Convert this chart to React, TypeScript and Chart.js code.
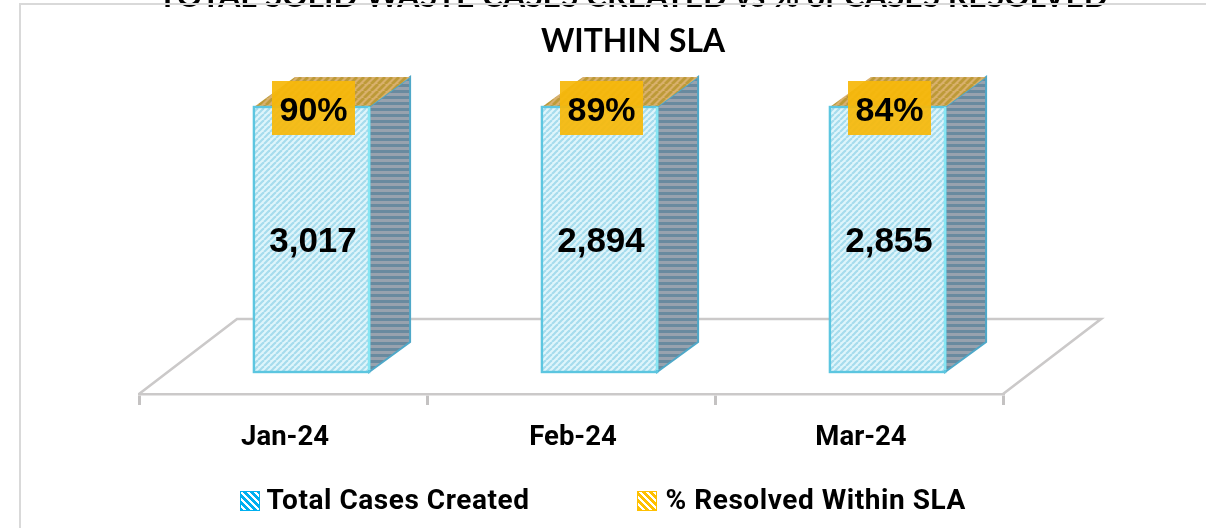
import React, { useEffect, useRef } from "react";
import { Chart, registerables } from "chart.js";

Chart.register(...registerables);

const months = ["Jan-24", "Feb-24", "Mar-24"];
const casesCreated = [3017, 2894, 2855];
const resolvedPct = [90, 89, 84];
const seriesNames = ["Total Cases Created", "% Resolved Within SLA"];
const titleLines = ["TOTAL SOLID WASTE CASES CREATED vs % of CASES RESOLVED", "WITHIN SLA"];

// 100% stacked shares, as in the original chart
const totals = casesCreated.map((v, i) => v + resolvedPct[i] / 100);
const casesShare = casesCreated.map((v, i) => v / totals[i]);
const pctShare = resolvedPct.map((v, i) => v / 100 / totals[i]);

function tile(w: number, h: number, draw: (c: CanvasRenderingContext2D) => void) {
  const cv = document.createElement("canvas");
  cv.width = w;
  cv.height = h;
  const c = cv.getContext("2d")!;
  draw(c);
  return cv;
}

function diagTile(size: number, bg: string, fg: string, lw: number) {
  return tile(size, size, (c) => {
    c.fillStyle = bg;
    c.fillRect(0, 0, size, size);
    c.strokeStyle = fg;
    c.lineWidth = lw;
    for (let k = -size; k <= size * 2; k += size) {
      c.beginPath();
      c.moveTo(k, size);
      c.lineTo(k + size, 0);
      c.stroke();
    }
  });
}

function pixelTile(size: number, bg: string, fg: string, band: number) {
  return tile(size, size, (c) => {
    c.fillStyle = bg;
    c.fillRect(0, 0, size, size);
    c.fillStyle = fg;
    for (let y = 0; y < size; y++)
      for (let x = 0; x < size; x++)
        if ((x - y + size) % size < band) c.fillRect(x, y, 1, 1);
  });
}

const FLOOR_DX = 98;
const FLOOR_DY = -75;
const BAR_DEPTH_DX = 41;
const BAR_DEPTH_DY = -30;
const BAR_SHIFT_DX = 28.5;
const BAR_SHIFT_DY = -22;
const GREY = "#cbc9c9";

function poly(c: CanvasRenderingContext2D, pts: number[][]) {
  c.beginPath();
  pts.forEach((p, i) => (i ? c.lineTo(p[0], p[1]) : c.moveTo(p[0], p[1])));
  c.closePath();
}

const floorPlugin = {
  id: "floor3d",
  beforeDatasetsDraw(chart: any) {
    const { ctx: c, chartArea: a } = chart;
    c.save();
    c.strokeStyle = GREY;
    c.lineWidth = 2.6;
    c.beginPath();
    c.moveTo(a.left, a.bottom);
    c.lineTo(a.left + FLOOR_DX, a.bottom + FLOOR_DY);
    c.lineTo(a.right + FLOOR_DX, a.bottom + FLOOR_DY);
    c.lineTo(a.right, a.bottom);
    c.stroke();
    c.restore();
  },
};

const barsPlugin = {
  id: "bars3d",
  afterDatasetsDraw(chart: any) {
    const c: CanvasRenderingContext2D = chart.ctx;
    const frontFill = c.createPattern(diagTile(6, "#dff5fb", "#a6dced", 2.2), "repeat")!;
    const topFill = c.createPattern(diagTile(7, "#d9b06c", "#bd9a38", 2.8), "repeat")!;
    const sideFill = c.createPattern(
      tile(2, 6, (t) => {
        t.fillStyle = "#98a2ae";
        t.fillRect(0, 0, 2, 6);
        t.fillStyle = "#698a9f";
        t.fillRect(0, 0, 2, 3);
      }),
      "repeat"
    )!;
    const m0 = chart.getDatasetMeta(0).data;
    const m1 = chart.getDatasetMeta(1).data;
    m0.forEach((bar: any, i: number) => {
      const w = bar.width;
      const l = bar.x - w / 2 + BAR_SHIFT_DX;
      const r = l + w;
      const bottom = bar.base + BAR_SHIFT_DY;
      const top = m1[i].y + BAR_SHIFT_DY;
      const dx = BAR_DEPTH_DX;
      const dy = BAR_DEPTH_DY;

      c.save();
      c.filter = "blur(0.6px)";
      poly(c, [[r, bottom], [r + dx, bottom + dy], [r + dx, top + dy], [r, top]]);
      c.fillStyle = sideFill;
      c.fill();
      c.strokeStyle = "#4fa8c8";
      c.lineWidth = 2;
      c.stroke();

      poly(c, [[l, top], [l + dx, top + dy], [r + dx, top + dy], [r, top]]);
      c.fillStyle = topFill;
      c.fill();

      c.fillStyle = frontFill;
      c.fillRect(l, top, w, bottom - top);
      c.strokeStyle = "#5cc6e0";
      c.lineWidth = 2.4;
      c.strokeRect(l, top, w, bottom - top);
      c.strokeStyle = "#86e6f3";
      c.beginPath();
      c.moveTo(r, top);
      c.lineTo(r, bottom - 2);
      c.stroke();
      c.restore();

      // value labels
      c.textAlign = "center";
      c.textBaseline = "middle";
      c.font = 'bold 35px "Liberation Sans"';
      c.fillStyle = "#000";
      c.fillText(casesCreated[i].toLocaleString("en-US"), l + w / 2 + 1.5, (top + bottom) / 2 + 3);

      const bw = 83;
      const bh = 54;
      const cx = l + w / 2 + 2;
      const cy = top + 1;
      c.fillStyle = "rgba(246,184,10,0.93)";
      c.fillRect(cx - bw / 2, cy - bh / 2, bw, bh);
      c.fillStyle = "#000";
      c.font = 'bold 34px "Liberation Sans"';
      c.fillText(resolvedPct[i] + "%", cx, cy + 4);
    });
  },
};

const framePlugin = {
  id: "frame",
  afterDraw(chart: any) {
    const c: CanvasRenderingContext2D = chart.ctx;
    c.save();
    c.strokeStyle = "#d9d9d9";
    c.lineWidth = 2;
    c.beginPath();
    c.moveTo(20, chart.height);
    c.lineTo(20, 4);
    c.lineTo(chart.width, 4);
    c.stroke();

    // legend
    const swatches = [
      { x: 240, bg: "#00b0f0", text: 266.5 },
      { x: 637, bg: "#ffc000", text: 665.5 },
    ];
    c.textAlign = "left";
    c.textBaseline = "middle";
    c.font = 'bold 28px "Roboto"';
    (c as any).letterSpacing = "0.55px";
    swatches.forEach((s, i) => {
      c.fillStyle = c.createPattern(pixelTile(7, s.bg, "#ffffff", 3), "repeat")!;
      c.fillRect(s.x, 491, 20, 20);
      c.strokeStyle = s.bg;
      c.lineWidth = 1;
      c.strokeRect(s.x + 0.5, 491.5, 19, 19);
      c.fillStyle = "#000";
      c.fillText(seriesNames[i], s.text, 502);
    });
    (c as any).letterSpacing = "0px";
    c.restore();
  },
};

export default function App() {
  const ref = useRef<HTMLCanvasElement>(null);
  useEffect(() => {
    document.body.style.margin = "0";
    document.body.style.background = "#fff";
    const chart = new Chart(ref.current!, {
      type: "bar",
      data: {
        labels: months,
        datasets: [
          {
            label: seriesNames[0],
            data: casesShare,
            backgroundColor: "rgba(0,0,0,0)",
            borderWidth: 0,
            categoryPercentage: 1,
            barPercentage: 0.4,
            xAxisID: "x",
            yAxisID: "y",
          },
          {
            label: seriesNames[1],
            data: pctShare,
            backgroundColor: "rgba(0,0,0,0)",
            borderWidth: 0,
            categoryPercentage: 1,
            barPercentage: 0.4,
            xAxisID: "x",
            yAxisID: "y",
          },
        ],
      },
      options: {
        animation: false,
        responsive: false,
        layout: { padding: { left: 60, right: 0, top: 0, bottom: 0 } },
        plugins: {
          legend: { display: false },
          tooltip: { enabled: false },
          title: {
            display: true,
            text: titleLines,
            color: "#000",
            font: { family: "Lato", weight: "bold", size: 31.8, lineHeight: 45 / 31.8 },
            padding: { top: -25.5, bottom: 64.5 },
          },
        },
        scales: {
          x: {
            stacked: true,
            grid: {
              display: true,
              drawOnChartArea: false,
              drawTicks: true,
              tickLength: 11,
              color: "#c4c2c2",
              lineWidth: 3,
            },
            border: { display: true, color: GREY, width: 2.6 },
            ticks: {
              color: "#000",
              padding: 17,
              maxRotation: 0,
              labelOffset: 2,
              font: { family: "Roboto", weight: "bold", size: 27.5 },
            },
            afterFit: (s: any) => {
              s.height = 134;
            },
          },
          y: {
            stacked: true,
            min: 0,
            max: 1,
            grid: { display: false },
            border: { display: false },
            ticks: { display: false },
            afterFit: (s: any) => {
              s.width = 79;
            },
          },
          yRight: {
            position: "right",
            min: 0,
            max: 1,
            grid: { display: false },
            border: { display: false },
            ticks: { display: false },
            afterFit: (s: any) => {
              s.width = 203;
            },
          },
        },
      } as any,
      plugins: [floorPlugin, barsPlugin, framePlugin],
    });
    return () => chart.destroy();
  }, []);
  return (
    <div style={{ position: "absolute", left: 0, top: 0, width: 1206, height: 528, overflow: "hidden" }}>
      <canvas ref={ref} width={1206} height={528} style={{ display: "block" }} />
    </div>
  );
}
